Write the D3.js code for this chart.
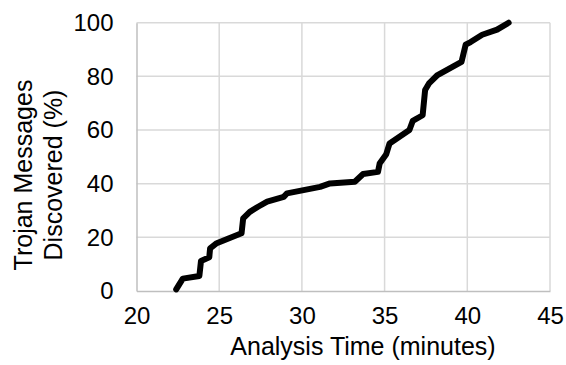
<!DOCTYPE html>
<html>
<head>
<meta charset="utf-8">
<script src="https://cdn.jsdelivr.net/npm/d3@7"></script>
<style>
  body { margin: 0; background: #fff; }
  text { font-family: "Liberation Sans", Arial, sans-serif; fill: #000; }
</style>
</head>
<body>
<svg id="chart"></svg>
<script>
// analysis time (minutes) vs cumulative % of trojan messages found
const times = [22.4, 22.8, 23.8, 23.9, 24.4, 24.45, 24.85, 25.45, 26.35, 26.45,
  26.85, 27.35, 27.9, 28.9, 29.1, 30.1, 31.1, 31.7, 33.2, 33.7,
  34.6, 34.7, 35.1, 35.3, 36.5, 36.7, 37.3, 37.45, 37.7, 38.2,
  39.65, 39.9, 40.2, 40.9, 41.8, 42.5];
const found = [0.6, 4.6, 5.6, 11.2, 12.6, 15.9, 17.8, 19.3, 21.5, 27.1,
  29.5, 31.4, 33.3, 35.1, 36.4, 37.6, 38.8, 40.1, 40.7, 43.6,
  44.4, 47.5, 51.0, 55.0, 60.0, 63.4, 65.5, 74.9, 77.5, 80.5,
  85.4, 91.8, 92.8, 95.5, 97.4, 100];

const xTicks = [20, 25, 30, 35, 40, 45];
const yTicks = [0, 20, 40, 60, 80, 100];

const W = 566, H = 365;
const M = {left: 136.5, right: 16, top: 22.7, bottom: 74};

const svg = d3.select('#chart').attr('width', W).attr('height', H);

const x = d3.scaleLinear().domain([20, 45]).range([M.left, W - M.right]);
const y = d3.scaleLinear().domain([0, 100]).range([H - M.bottom, M.top]);

// gridlines
svg.append('g')
  .selectAll('line')
  .data(yTicks.slice(1))
  .join('line')
  .attr('x1', x(20)).attr('x2', x(45))
  .attr('y1', d => y(d)).attr('y2', d => y(d))
  .attr('stroke', '#d9d9d9').attr('stroke-width', 1.5);

svg.append('g')
  .selectAll('line')
  .data(xTicks.slice(1))
  .join('line')
  .attr('x1', d => x(d)).attr('x2', d => x(d))
  .attr('y1', y(0)).attr('y2', y(100))
  .attr('stroke', '#d9d9d9').attr('stroke-width', 1.5);

// axes
const xAxis = svg.append('g')
  .attr('transform', `translate(0, ${y(0)})`)
  .call(d3.axisBottom(x).tickValues(xTicks).tickSize(0).tickPadding(16));
xAxis.select('.domain').attr('stroke', '#bfbfbf').attr('stroke-width', 1.5);
xAxis.selectAll('text').style('font-size', '24px').attr('font-family', null);

const yAxis = svg.append('g')
  .attr('transform', `translate(${x(20)}, 0)`)
  .call(d3.axisLeft(y).tickValues(yTicks).tickSize(0).tickPadding(23));
yAxis.select('.domain').attr('stroke', '#bfbfbf').attr('stroke-width', 1.5);
yAxis.selectAll('text').style('font-size', '24px').attr('font-family', null);

// curve
const line = d3.line()
  .x((d, i) => x(times[i]))
  .y(d => y(d));

svg.append('path')
  .datum(found)
  .attr('d', line)
  .attr('fill', 'none')
  .attr('stroke', '#000')
  .attr('stroke-width', 6)
  .attr('stroke-linejoin', 'round')
  .attr('stroke-linecap', 'round');

// titles
svg.append('text')
  .attr('x', 363)
  .attr('y', 355)
  .attr('text-anchor', 'middle')
  .style('font-size', '25px')
  .text('Analysis Time (minutes)');

const yTitle = svg.append('text')
  .attr('transform', 'translate(0, 175) rotate(-90)')
  .attr('text-anchor', 'middle')
  .style('font-size', '25px');
yTitle.append('tspan').attr('x', 0).attr('y', 32).text('Trojan Messages');
yTitle.append('tspan').attr('x', 0).attr('y', 62).text('Discovered (%)');
</script>
</body>
</html>
